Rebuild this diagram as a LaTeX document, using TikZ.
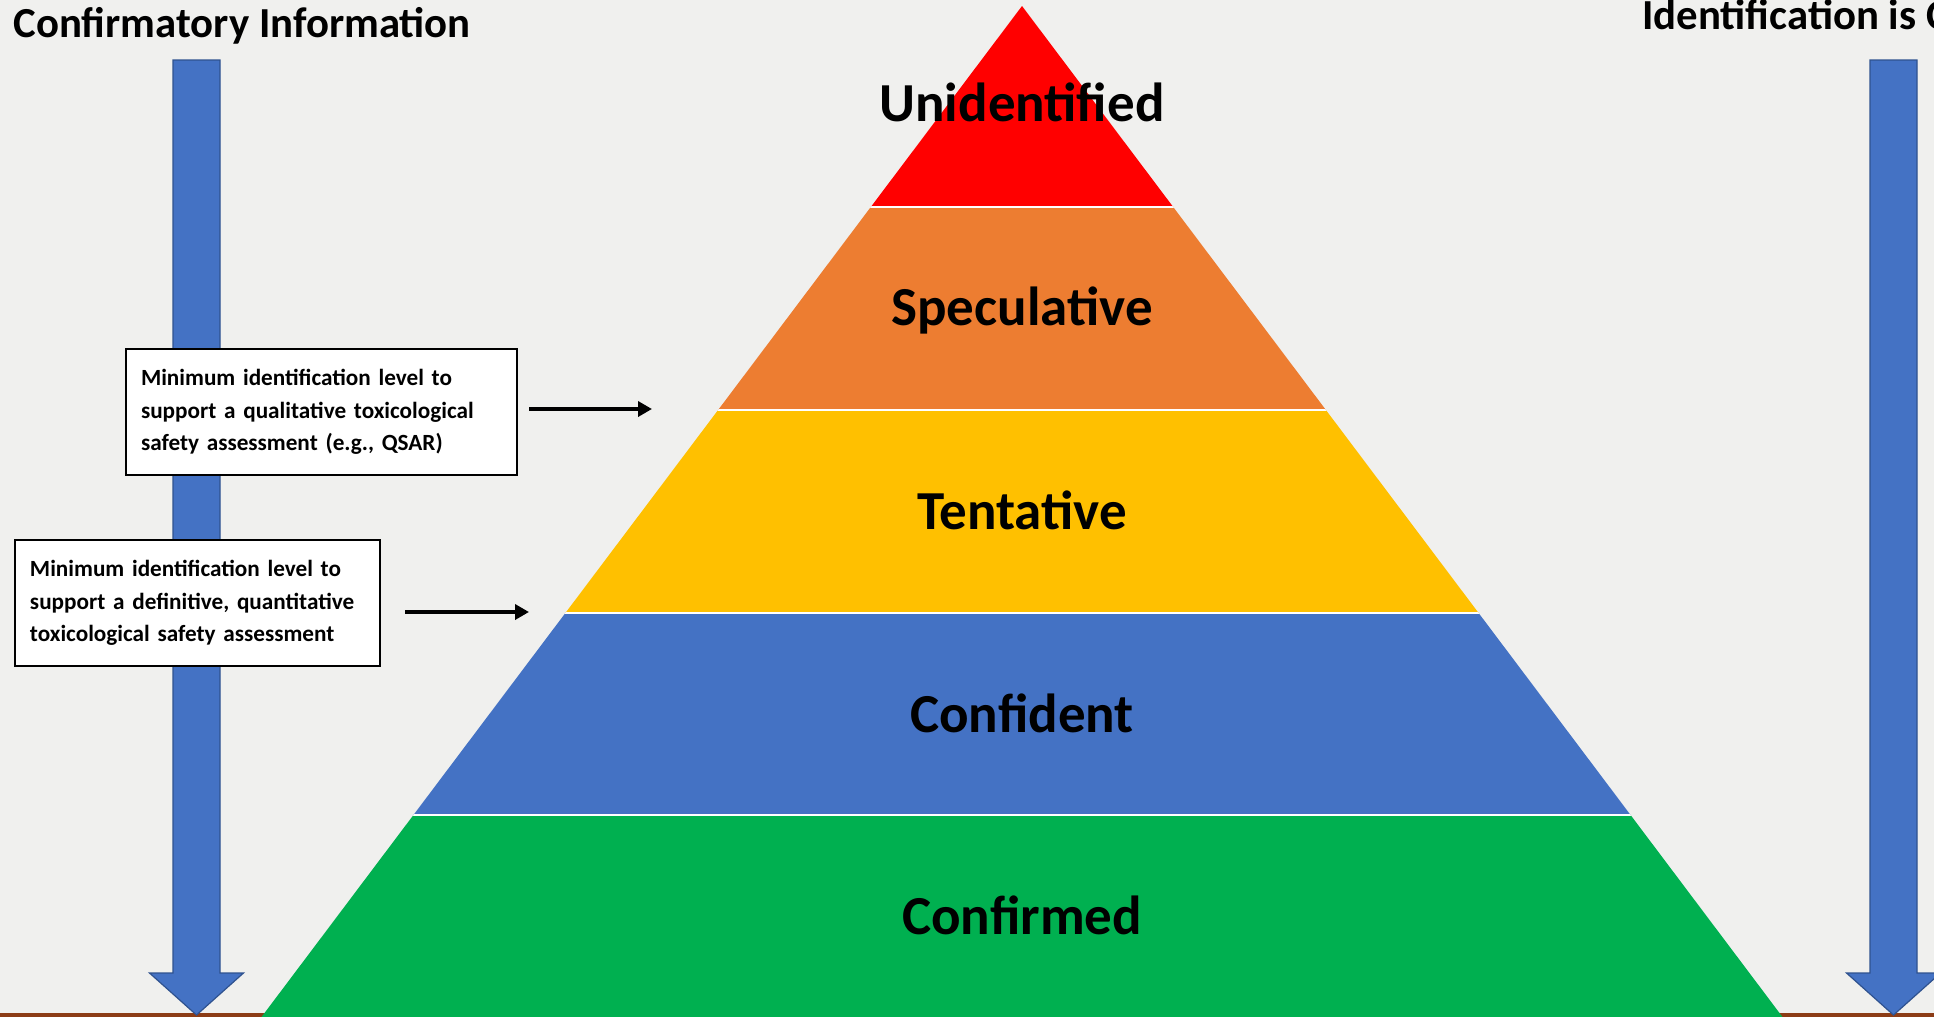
\documentclass[tikz,border=0pt]{standalone}
\usepackage{fontspec}
\setmainfont{Carlito}
\usetikzlibrary{arrows.meta}
\hyphenpenalty=10000
\definecolor{fond}{RGB}{240,240,238}
\definecolor{pyrred}{HTML}{FF0000}
\definecolor{pyrorange}{HTML}{ED7D31}
\definecolor{pyryellow}{HTML}{FFC000}
\definecolor{pyrblue}{HTML}{4472C4}
\definecolor{pyrgreen}{HTML}{00B050}
\definecolor{bordbleu}{HTML}{2F528F}
\definecolor{sol}{RGB}{140,60,22}
\tikzset{
  level/.style={anchor=base,font=\fontsize{27.5}{32}\selectfont\bfseries},
  titre/.style={anchor=base west,inner sep=0pt,font=\fontsize{21.4}{25}\selectfont\bfseries},
  infobox/.style={draw=black,line width=1pt,fill=white,align=left,anchor=north west,
    inner xsep=7.5pt,inner ysep=0pt,minimum height=63pt,font=\fontsize{11.6}{16.25}\selectfont\bfseries},
  bigarrow/.style={fill=pyrblue,draw=bordbleu,line width=0.6pt},
  pointer/.style={-{Triangle[length=7pt,width=7.5pt]},line width=1.9pt}
}
\begin{document}
\begin{tikzpicture}[x=0.5pt,y=-0.5pt]% une unité = un pixel de l'image
	\useasboundingbox (0,0) rectangle (1934,1017);
	\clip (0,0) rectangle (1934,1017);
	\fill[fond] (0,0) rectangle (1934,1017);
	\fill[sol] (0,1013) rectangle (1934,1017);
	
	\begin{scope}
		\clip (1022,6) -- (261.5,1017) -- (1782.5,1017) -- cycle;
		\foreach \col/\ya/\yb in {pyrred/0/207,pyrorange/207/409.5,pyryellow/409.5/613,pyrblue/613/815,pyrgreen/815/1017}{
			\fill[\col] (0,\ya) rectangle (1934,\yb);
			\draw[white,line width=1pt] (0,\ya) -- (1934,\ya);}
	\end{scope}
	\foreach \nom/\txt/\yb in {unid/Unidentified/121,spec/Speculative/325,tent/Tentative/529,conf/Confident/732,confirm/Confirmed/934}{
		\node[level] (\nom) at (1022,\yb) {\txt};}
	
	\foreach \xc in {196.5,1893.5}{
		\draw[bigarrow] (\xc-23.5,60) -- (\xc+23.5,60) -- (\xc+23.5,973) -- (\xc+47,973) -- (\xc,1015) -- (\xc-47,973) -- (\xc-23.5,973) -- cycle;}
	\node[titre] (titreg) at (13,37) {Confirmatory Information};
	\node[titre] (titred) at (1642,29) {Identification is C};
	
	\node[infobox,text width=180.5pt] (qualbox) at (125,348) {Minimum identification level to\\support a qualitative toxicological\\safety assessment (e.g., QSAR)};
	\node[infobox,text width=167.5pt] (quantbox) at (14,539) {Minimum identification level to\\support a definitive, quantitative\\toxicological safety assessment};
	\coordinate (qualend) at (652,409);
	\coordinate (quantend) at (529,612);
	\draw[pointer] ([xshift=5.5pt]qualbox.east |- qualend) -- (qualend);
	\draw[pointer] ([xshift=12pt]quantbox.east |- quantend) -- (quantend);
\end{tikzpicture}
\end{document}
